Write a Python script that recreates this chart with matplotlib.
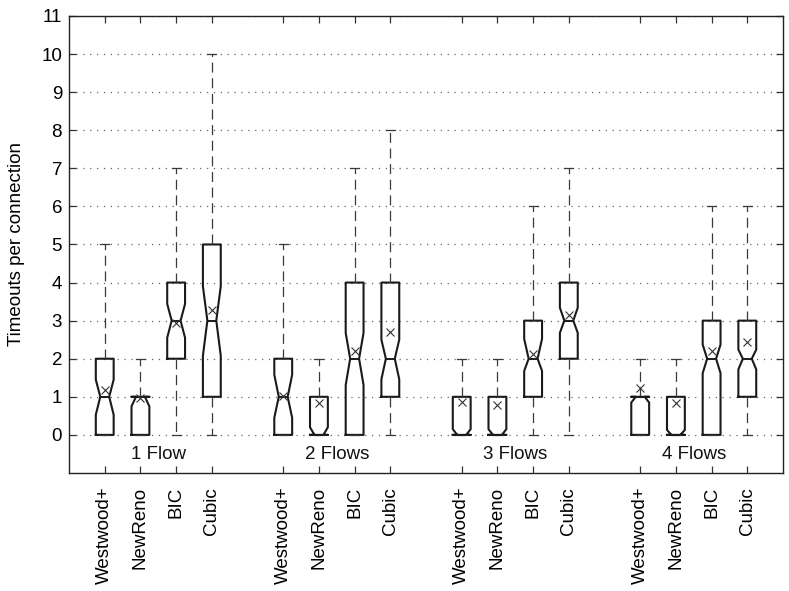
import matplotlib
matplotlib.use("Agg")
import matplotlib.pyplot as plt
import numpy as np

plt.rcParams['font.family'] = ['Liberation Sans', 'DejaVu Sans']

groups = ["1 Flow", "2 Flows", "3 Flows", "4 Flows"]
variants = ["Westwood+", "NewReno", "BIC", "Cubic"]

# per group: lists over variants (Westwood+, NewReno, BIC, Cubic)
whislo = [[0, 0, 0, 0], [0, 0, 0, 0], [0, 0, 0, 0], [0, 0, 0, 0]]
q1 = [[0, 0, 2, 1], [0, 0, 0, 1], [0, 0, 1, 2], [0, 0, 0, 1]]
med = [[1, 1, 3, 3], [1, 0, 2, 2], [0, 0, 2, 3], [1, 0, 2, 2]]
q3 = [[2, 1, 4, 5], [2, 1, 4, 4], [1, 1, 3, 4], [1, 1, 3, 3]]
whishi = [[5, 2, 7, 10], [5, 2, 7, 8], [2, 2, 6, 7], [2, 2, 6, 6]]
mean = [[1.19, 0.98, 2.95, 3.29], [1.03, 0.85, 2.19, 2.71],
        [0.86, 0.79, 2.13, 3.16], [1.23, 0.83, 2.20, 2.43]]
cilo = [[0.53, 0.75, 2.55, 2.08], [0.45, 0.0, 1.31, 1.46],
        [0.0, 0.0, 1.68, 2.68], [0.85, 0.0, 1.62, 1.72]]
cihi = [[1.45, 1.0, 3.44, 3.90], [1.58, 0.20, 2.68, 2.50],
        [0.15, 0.15, 2.52, 3.34], [1.0, 0.13, 2.37, 2.24]]

fig = plt.figure(figsize=(7.89, 5.91), dpi=100)
ax = fig.add_axes([0.0875, 0.1997, 0.9049, 0.7733])

stats = []
positions = []
labels = []
group_centers = []
for g in range(len(groups)):
    gp = []
    for v in range(len(variants)):
        pos = g * (len(variants) + 1) + v + 1
        gp.append(pos)
        positions.append(pos)
        labels.append(variants[v])
        stats.append(dict(whislo=whislo[g][v], q1=q1[g][v], med=med[g][v],
                          q3=q3[g][v], whishi=whishi[g][v], mean=mean[g][v],
                          cilo=cilo[g][v], cihi=cihi[g][v], fliers=[]))
    group_centers.append(np.mean(gp))

ax.yaxis.grid(True, linestyle=(0, (1, 4.5)), color='#666666', linewidth=0.9, zorder=0)
ax.set_axisbelow(True)

ax.bxp(stats, positions=positions, widths=0.5, shownotches=True,
       showmeans=True, showfliers=False, patch_artist=False,
       boxprops=dict(color='#1a1a1a', linewidth=1.5),
       medianprops=dict(color='#1a1a1a', linewidth=1.4),
       whiskerprops=dict(color='#3a3a3a', linewidth=0.9, linestyle=(0, (8, 4.5))),
       capprops=dict(color='#3a3a3a', linewidth=0.9),
       meanprops=dict(marker='x', markeredgecolor='#333333', markerfacecolor='none',
                      markersize=6, markeredgewidth=0.8))

for c, name in zip(group_centers, groups):
    ax.text(c, -0.52, name, ha='center', va='center', fontsize=13.5, color='#111111')

ax.set_xlim(0, 20)
ax.set_ylim(-1, 11)
ax.set_yticks(range(0, 12))
ax.set_xticks(positions)
ax.set_xticklabels(labels, rotation=90, va='top', ha='center', fontsize=13.5)
ax.tick_params(axis='y', labelsize=13.5)
ax.tick_params(direction='in', top=True, right=True, length=5, width=0.9,
               color='#333333')
ax.tick_params(axis='x', pad=10)
ax.tick_params(axis='y', pad=5)
for s in ax.spines.values():
    s.set_linewidth(1.0)
    s.set_color('#222222')

ax.set_ylabel("Timeouts per connection", fontsize=13.5, labelpad=12)

fig.savefig("out.png", dpi=100)
